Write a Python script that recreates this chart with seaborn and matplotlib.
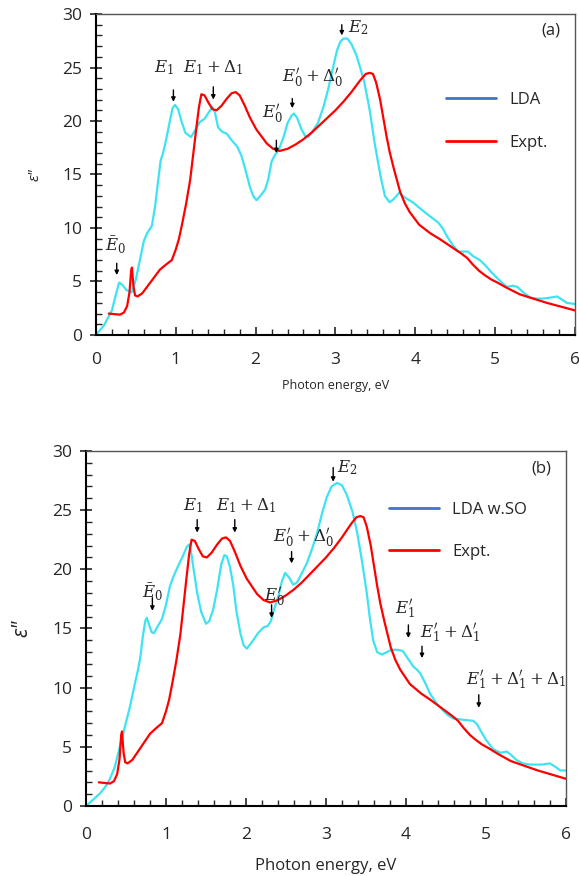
import numpy as np
import pandas as pd
import seaborn as sns
import matplotlib.pyplot as plt
from matplotlib.lines import Line2D
from matplotlib.ticker import MultipleLocator

# Datos: (energia eV, eps'')
lda_a = [(0, 0), (0.1, 0.9), (0.2, 2.3), (0.25, 3.8), (0.29, 4.9), (0.33, 4.7), (0.38, 4.2),
         (0.45, 4.0), (0.5, 5.2), (0.55, 7.0), (0.6, 8.8), (0.64, 9.5), (0.7, 10.2), (0.74, 12.0),
         (0.78, 14.5), (0.81, 16.3), (0.84, 17.0), (0.88, 18.3), (0.92, 19.8), (0.96, 21.2),
         (0.99, 21.5), (1.03, 21.1), (1.07, 20.0), (1.12, 18.9), (1.19, 18.5), (1.24, 19.1),
         (1.3, 19.9), (1.36, 20.2), (1.42, 20.9), (1.46, 21.3), (1.49, 20.8), (1.53, 19.4),
         (1.58, 19.0), (1.64, 18.8), (1.7, 18.2), (1.77, 17.6), (1.82, 16.8), (1.87, 15.5),
         (1.93, 13.8), (1.97, 13.0), (2.01, 12.6), (2.06, 13.0), (2.12, 13.6), (2.16, 14.6),
         (2.2, 16.2), (2.24, 16.8), (2.29, 17.3), (2.35, 18.5), (2.4, 19.8), (2.45, 20.5),
         (2.48, 20.7), (2.52, 20.3), (2.57, 19.3), (2.62, 18.6), (2.66, 18.5), (2.71, 19.0),
         (2.78, 19.8), (2.85, 21.3), (2.91, 23.0), (2.97, 25.0), (3.02, 26.6), (3.06, 27.4),
         (3.1, 27.7), (3.15, 27.7), (3.2, 27.2), (3.26, 26.2), (3.31, 25.0), (3.36, 23.7),
         (3.43, 21.0), (3.49, 18.0), (3.53, 16.3), (3.57, 14.7), (3.62, 13.0), (3.68, 12.4),
         (3.73, 12.7), (3.8, 13.3), (3.86, 12.9), (3.97, 12.4), (4.05, 11.9), (4.15, 11.3),
         (4.22, 10.9), (4.29, 10.5), (4.35, 9.9), (4.4, 9.2), (4.47, 8.4), (4.54, 7.8),
         (4.6, 7.8), (4.66, 7.8), (4.72, 7.4), (4.81, 7.0), (4.88, 6.5), (4.95, 5.9), (5.03, 5.3),
         (5.1, 4.8), (5.15, 4.5), (5.22, 4.6), (5.28, 4.5), (5.35, 4.0), (5.44, 3.5), (5.52, 3.4),
         (5.6, 3.4), (5.7, 3.5), (5.78, 3.6), (5.84, 3.3), (5.9, 3.0), (6.0, 2.9)]

lda_b = [(0, 0), (0.1, 0.6), (0.18, 1.1), (0.25, 1.7), (0.3, 2.3), (0.36, 3.3), (0.43, 5.2),
         (0.49, 6.8), (0.55, 8.4), (0.61, 10.3), (0.65, 11.5), (0.68, 12.6), (0.71, 14.3),
         (0.74, 15.6), (0.76, 15.9), (0.79, 15.3), (0.82, 14.7), (0.85, 14.6), (0.89, 15.1),
         (0.95, 15.8), (1.0, 17.0), (1.05, 18.6), (1.1, 19.5), (1.16, 20.4), (1.21, 21.1),
         (1.26, 21.9), (1.29, 22.1), (1.32, 21.2), (1.35, 19.8), (1.39, 18.0), (1.44, 16.4),
         (1.5, 15.4), (1.54, 15.6), (1.59, 16.6), (1.64, 18.3), (1.69, 20.4), (1.73, 21.2),
         (1.76, 21.1), (1.8, 20.2), (1.84, 18.7), (1.88, 16.5), (1.93, 14.6), (1.97, 13.6),
         (2.01, 13.3), (2.08, 13.9), (2.15, 14.6), (2.22, 15.1), (2.27, 15.2), (2.31, 15.6),
         (2.35, 16.6), (2.4, 17.6), (2.45, 19.0), (2.49, 19.7), (2.54, 19.3), (2.59, 18.7),
         (2.64, 18.9), (2.7, 19.7), (2.76, 20.5), (2.83, 21.8), (2.89, 23.1), (2.95, 24.7),
         (3.01, 26.1), (3.07, 27.0), (3.14, 27.3), (3.2, 27.1), (3.26, 26.3), (3.33, 24.9),
         (3.39, 23.1), (3.45, 20.7), (3.51, 18.0), (3.55, 15.8), (3.59, 14.0), (3.64, 13.0),
         (3.7, 12.8), (3.76, 13.0), (3.82, 13.2), (3.9, 13.2), (3.96, 13.1), (4.02, 12.5),
         (4.09, 11.8), (4.14, 11.5), (4.18, 11.2), (4.24, 10.4), (4.3, 9.5), (4.38, 8.7),
         (4.46, 8.1), (4.52, 7.7), (4.59, 7.4), (4.7, 7.3), (4.84, 7.2), (4.89, 6.9), (4.93, 6.4),
         (5.0, 5.6), (5.09, 4.8), (5.18, 4.5), (5.26, 4.6), (5.3, 4.4), (5.38, 3.9), (5.46, 3.6),
         (5.55, 3.5), (5.7, 3.5), (5.8, 3.6), (5.87, 3.3), (5.93, 3.0), (6.0, 3.0)]

expt = [(0.16, 2.0), (0.3, 1.9), (0.35, 2.1), (0.39, 2.7), (0.42, 4.0), (0.44, 6.0), (0.45, 6.3),
        (0.47, 4.5), (0.49, 3.7), (0.52, 3.6), (0.58, 3.9), (0.64, 4.5), (0.72, 5.3), (0.8, 6.1),
        (0.88, 6.6), (0.95, 7.0), (1.0, 8.0), (1.04, 9.0), (1.08, 10.4), (1.13, 12.3),
        (1.18, 14.5), (1.22, 17.0), (1.26, 19.5), (1.29, 21.3), (1.32, 22.5), (1.36, 22.4),
        (1.41, 21.7), (1.46, 21.1), (1.51, 21.0), (1.57, 21.4), (1.64, 22.1), (1.7, 22.6),
        (1.75, 22.7), (1.8, 22.4), (1.86, 21.5), (1.93, 20.3), (2.01, 19.2), (2.08, 18.5),
        (2.14, 17.9), (2.22, 17.4), (2.3, 17.2), (2.4, 17.4), (2.5, 17.8), (2.6, 18.3),
        (2.7, 18.9), (2.8, 19.6), (2.9, 20.3), (3.0, 21.0), (3.1, 21.8), (3.2, 22.7),
        (3.31, 23.8), (3.38, 24.4), (3.43, 24.5), (3.47, 24.4), (3.51, 23.6), (3.56, 22.0),
        (3.6, 20.3), (3.64, 18.6), (3.68, 17.1), (3.73, 15.6), (3.77, 14.5), (3.81, 13.4),
        (3.87, 12.3), (3.93, 11.5), (3.97, 11.1), (4.05, 10.3), (4.12, 9.9), (4.19, 9.5),
        (4.3, 9.0), (4.4, 8.5), (4.5, 8.0), (4.58, 7.6), (4.65, 7.2), (4.72, 6.6), (4.8, 6.0),
        (4.87, 5.6), (4.95, 5.2), (5.03, 4.9), (5.15, 4.4), (5.31, 3.8), (5.5, 3.35), (5.65, 3.0),
        (5.8, 2.7), (6.0, 2.3)]

lda_a_e, lda_a_eps = zip(*lda_a)
lda_b_e, lda_b_eps = zip(*lda_b)
expt_e, expt_eps = zip(*expt)

# etiquetas: (texto, x texto, y texto, x flecha, y inicio, y fin)
labels_a = [(r"$\bar{E}_0$", 0.24, 8.4, 0.26, 6.7, 5.6),
            (r"$E_1$", 0.85, 25.0, 0.97, 22.9, 21.8),
            (r"$E_1+\Delta_1$", 1.47, 25.0, 1.47, 23.2, 22.0),
            (r"$E_0'$", 2.21, 20.7, 2.26, 18.2, 17.0),
            (r"$E_0'+\Delta_0'$", 2.72, 24.1, 2.46, 22.1, 21.2),
            (r"$E_2$", 3.28, 28.7, 3.08, 29.0, 28.0)]
labels_b = [(r"$\bar{E}_0$", 0.83, 18.1, 0.83, 17.6, 16.5),
            (r"$E_1$", 1.34, 25.4, 1.39, 24.2, 23.1),
            (r"$E_1+\Delta_1$", 2.0, 25.4, 1.86, 24.2, 23.1),
            (r"$E_0'$", 2.36, 17.7, 2.32, 17.0, 15.9),
            (r"$E_0'+\Delta_0'$", 2.72, 22.7, 2.57, 21.5, 20.5),
            (r"$E_2$", 3.26, 28.6, 3.09, 28.6, 27.4),
            (r"$E_1'$", 3.99, 16.6, 4.03, 15.3, 14.2),
            (r"$E_1'+\Delta_1'$", 4.55, 14.6, 4.2, 13.5, 12.5),
            (r"$E_1'+\Delta_1'+\Delta_1$", 5.38, 10.6, 4.91, 9.4, 8.3)]

sns.set_style("ticks")
plt.rcParams['font.family'] = ['Open Sans', 'DejaVu Sans']
plt.rcParams['mathtext.fontset'] = 'dejavuserif'

cyan = "#3ee3f2"
red = "#ff0000"
blue = "#4472c4"

fig = plt.figure(figsize=(5.79, 8.76), dpi=100)
ax1 = fig.add_axes([0.1658, 0.6176, 0.827, 0.3664])
ax2 = fig.add_axes([0.1485, 0.0799, 0.829, 0.4053])


def draw(ax, lda_e, lda_eps, labels, tag, lda_name, xl_size, yl_size, leg_x, leg_y, xpad, xlpad):
    sns.lineplot(x=list(lda_e), y=list(lda_eps), color=cyan, lw=1.6, sort=False, ax=ax)
    sns.lineplot(x=list(expt_e), y=list(expt_eps), color=red, lw=1.6, sort=False, ax=ax)
    ax.set_xlim(0, 6)
    ax.set_ylim(0, 30)
    ax.xaxis.set_major_locator(MultipleLocator(1))
    ax.xaxis.set_minor_locator(MultipleLocator(0.2))
    ax.yaxis.set_major_locator(MultipleLocator(5))
    ax.yaxis.set_minor_locator(MultipleLocator(1))
    ax.tick_params(axis='x', which='major', direction='in', length=6, width=1.2, labelsize=12.5, pad=xpad)
    ax.tick_params(axis='x', which='minor', direction='in', length=4, width=1)
    ax.tick_params(axis='y', which='major', direction='inout', length=8, width=1.2, labelsize=12.5, pad=6)
    ax.tick_params(axis='y', which='minor', direction='in', length=4, width=1)
    for s in ['left', 'bottom']:
        ax.spines[s].set_linewidth(1.5)
        ax.spines[s].set_color('black')
    for s in ['top', 'right']:
        ax.spines[s].set_linewidth(1.0)
        ax.spines[s].set_color('#555555')
    ax.set_xlabel("Photon energy, eV", fontsize=xl_size, labelpad=xlpad)
    ax.set_ylabel('ε"', fontsize=yl_size, style='italic', labelpad=14)
    for txt, tx, ty, axx, y0, y1 in labels:
        ax.text(tx, ty, txt, fontsize=12, ha='center', va='center')
        ax.annotate("", xy=(axx, y1), xytext=(axx, y0),
                    arrowprops=dict(arrowstyle='-|>', color='black', lw=1.0,
                                    mutation_scale=6, shrinkA=0, shrinkB=0))
    ax.text(0.97, 0.95, tag, transform=ax.transAxes, fontsize=12, ha='right', va='center')
    handles = [Line2D([], [], color=blue, lw=2), Line2D([], [], color=red, lw=2)]
    ax.legend(handles, [lda_name, "Expt."], loc='center left', bbox_to_anchor=(leg_x, leg_y),
              frameon=False, fontsize=12, handlelength=3.0, labelspacing=1.6)


draw(ax1, lda_a_e, lda_a_eps, labels_a, "(a)", "LDA", 9, 11, 0.7, 0.665, 12, 8)
draw(ax2, lda_b_e, lda_b_eps, labels_b, "(b)", "LDA w.SO", 12, 15, 0.6, 0.775, 15, 11)

fig.savefig("out.png", dpi=100)
